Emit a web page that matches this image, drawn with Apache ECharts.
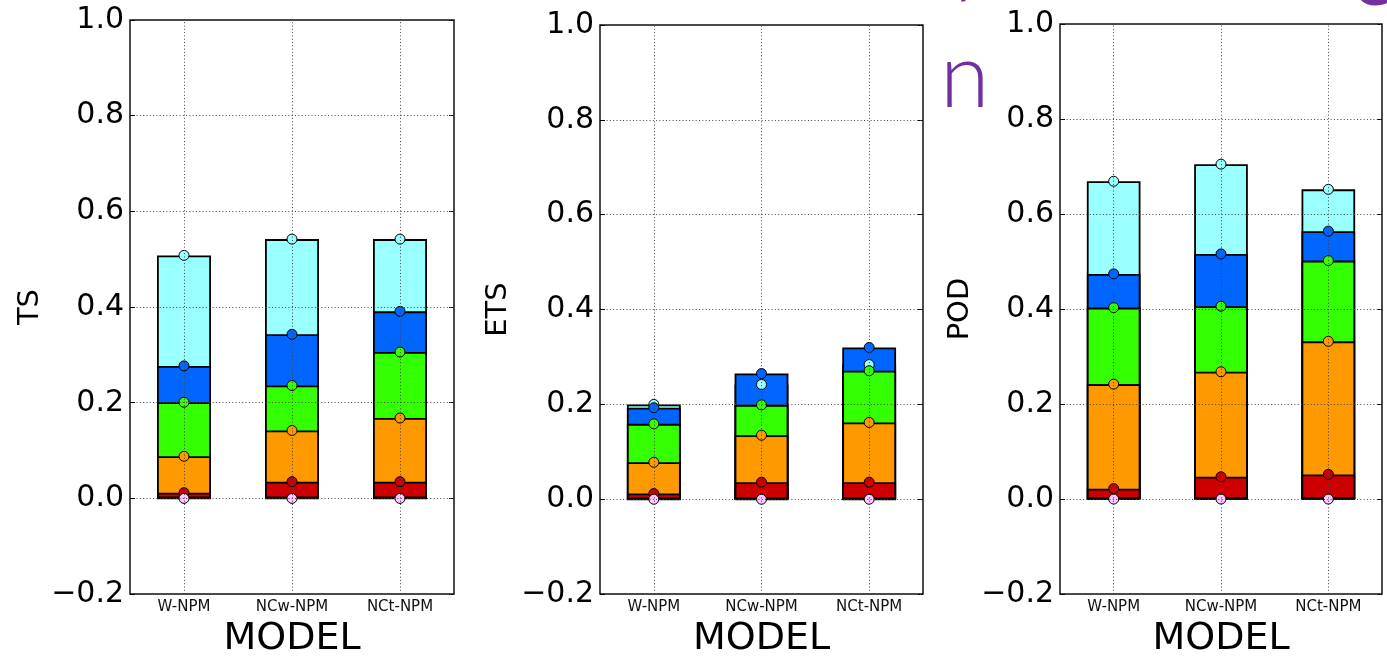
<!DOCTYPE html>
<html><head><meta charset="utf-8">
<script src="https://cdn.jsdelivr.net/npm/echarts@6/dist/echarts.min.js"></script>
<style>html,body{margin:0;padding:0;background:#fff}#c{width:1387px;height:663px}</style>
</head><body><div id="c"></div>
<script>
// ---------- data ----------
const categories = ['W-NPM', 'NCw-NPM', 'NCt-NPM'];
const panelNames = ['TS', 'ETS', 'POD'];
const xAxisTitle = 'MODEL';
const yMin = -0.2, yMax = 1.0, yStep = 0.2;

// TS
const TS_cyan   = [0.508, 0.542, 0.542];
const TS_blue   = [0.277, 0.343, 0.391];
const TS_green  = [0.201, 0.236, 0.306];
const TS_orange = [0.088, 0.142, 0.168];
const TS_red    = [0.012, 0.035, 0.035];
const TS_pink   = [0.000, 0.000, 0.000];
// ETS
const ETS_cyan   = [0.200, 0.242, 0.284];
const ETS_blue   = [0.193, 0.265, 0.320];
const ETS_green  = [0.159, 0.199, 0.271];
const ETS_orange = [0.078, 0.135, 0.162];
const ETS_red    = [0.012, 0.036, 0.036];
const ETS_pink   = [0.000, 0.000, 0.000];
// POD
const POD_cyan   = [0.669, 0.705, 0.652];
const POD_blue   = [0.474, 0.516, 0.564];
const POD_green  = [0.403, 0.406, 0.502];
const POD_orange = [0.242, 0.268, 0.332];
const POD_red    = [0.022, 0.047, 0.052];
const POD_pink   = [0.000, 0.000, 0.000];

// ---------- styles / layout ----------
const levelColors = ['#99ffff', '#0066ff', '#33ff00', '#ff9900', '#cc0000', '#ffc8ff'];
const panels = [
  [TS_cyan, TS_blue, TS_green, TS_orange, TS_red, TS_pink],
  [ETS_cyan, ETS_blue, ETS_green, ETS_orange, ETS_red, ETS_pink],
  [POD_cyan, POD_blue, POD_green, POD_orange, POD_red, POD_pink]
];
const gridBoxes = [
  {left: 130, top: 20, width: 324, height: 575},
  {left: 600, top: 25, width: 323, height: 574},
  {left: 1060, top: 24, width: 322, height: 575}
];
const yNameGaps = [85, 87, 85];
const FONT = 'DejaVu Sans';
const gridLine = {color: '#444', width: 1, type: [1, 2.3]};

const grids = [], xAxes = [], yAxes = [], series = [];
gridBoxes.forEach((g, p) => {
  grids.push(Object.assign({show: true, borderColor: '#111', borderWidth: 1.5, backgroundColor: '#fff'}, g));
});
gridBoxes.forEach((g, p) => {
  xAxes.push({
    type: 'category', gridIndex: p, data: categories, position: 'bottom',
    axisLine: {show: false},
    axisTick: {show: true, inside: true, length: 5, alignWithLabel: true, lineStyle: {color: '#000'}},
    axisLabel: {fontSize: 15, color: '#111', fontFamily: FONT, margin: 6},
    splitLine: {show: false},
    name: xAxisTitle, nameLocation: 'middle', nameGap: 20,
    nameTextStyle: {fontSize: 38, color: '#000', fontFamily: FONT}
  });
});
gridBoxes.forEach((g, p) => {
  xAxes.push({
    type: 'category', gridIndex: p, data: categories, position: 'top',
    axisLine: {show: false},
    axisTick: {show: true, inside: true, length: 5, alignWithLabel: true, lineStyle: {color: '#000'}},
    axisLabel: {show: false}, splitLine: {show: false}
  });
});
gridBoxes.forEach((g, p) => {
  yAxes.push({
    type: 'value', gridIndex: p, min: yMin, max: yMax, interval: yStep, position: 'left', z: 5,
    axisLine: {show: false},
    axisTick: {show: true, inside: true, length: 5, lineStyle: {color: '#000'}},
    axisLabel: {fontSize: 30, color: '#000', fontFamily: FONT, margin: 6,
      showMinLabel: true, showMaxLabel: true,
      formatter: v => v.toFixed(1).replace('-', '\u2212')},
    splitLine: {show: true, lineStyle: gridLine},
    name: panelNames[p], nameLocation: 'middle', nameGap: yNameGaps[p], nameRotate: 90,
    nameTextStyle: {fontSize: 29, color: '#000', fontFamily: FONT}
  });
});
gridBoxes.forEach((g, p) => {
  yAxes.push({
    type: 'value', gridIndex: p, min: yMin, max: yMax, interval: yStep, position: 'right',
    axisLine: {show: false},
    axisTick: {show: true, inside: true, length: 5, lineStyle: {color: '#000'}},
    axisLabel: {show: false}, splitLine: {show: false}
  });
});

panels.forEach((levels, p) => {
  levels.forEach((vals, i) => {
    series.push({
      type: 'bar', xAxisIndex: p, yAxisIndex: p, data: vals,
      barWidth: '50%', barGap: '-100%', z: 2 + i * 0.01,
      itemStyle: {color: levelColors[i], borderColor: '#000', borderWidth: 1.8},
      silent: true
    });
  });
  levels.forEach((vals, i) => {
    const s = {
      type: 'scatter', xAxisIndex: p, yAxisIndex: p, data: vals,
      symbol: 'circle', symbolSize: 10, z: 3 + i * 0.01,
      itemStyle: {color: levelColors[i], borderColor: '#000', borderWidth: 1, opacity: 1},
      silent: true
    };
    if (i === levels.length - 1) {
      s.markLine = {
        silent: true, symbol: 'none', z: 6, label: {show: false},
        lineStyle: gridLine,
        data: categories.map(c => ({xAxis: c}))
      };
    }
    series.push(s);
  });
});

const purple = '#7030a0';
const chart = echarts.init(document.getElementById('c'), null, {renderer: 'canvas'});
chart.setOption({
  animation: false,
  backgroundColor: '#fff',
  graphic: [
    {type: 'text', z: -1, x: 940, y: 78, style: {text: 'n', fontSize: 90, fontFamily: 'Lato', fontWeight: 300, fill: purple, verticalAlign: 'middle', align: 'left'}},
    {type: 'text', z: -1, x: 948, y: -44, style: {text: 'y', fontSize: 90, fontFamily: 'Lato', fontWeight: 300, fill: purple, verticalAlign: 'middle', align: 'left'}},
    {type: 'text', z: -1, x: 1350, y: -24, style: {text: 'e', fontSize: 90, fontFamily: 'Lato', fontWeight: 400, fill: purple, verticalAlign: 'middle', align: 'left'}}
  ],
  grid: grids, xAxis: xAxes, yAxis: yAxes, series: series
});
</script></body></html>
